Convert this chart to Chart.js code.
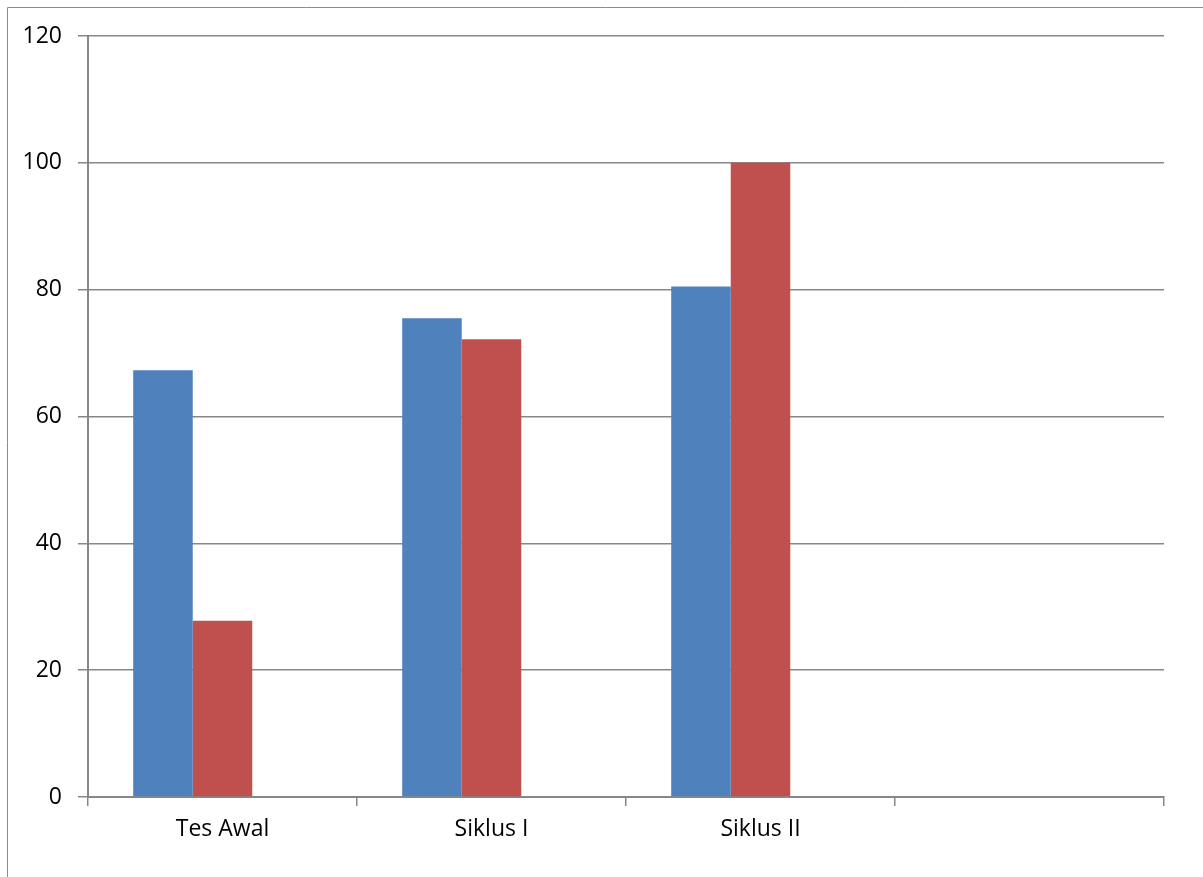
<!DOCTYPE html>
<html>
<head>
<meta charset="utf-8">
<script src="https://cdn.jsdelivr.net/npm/chart.js@4"></script>
<style>
  html, body { margin: 0; padding: 0; background: #fff; }
  #wrap { position: relative; width: 1203px; height: 877px; }
  canvas { display: block; }
</style>
</head>
<body>
<div id="wrap"><canvas id="c" width="1203" height="877"></canvas></div>
<script>
const categories = ['Tes Awal', 'Siklus I', 'Siklus II', ''];
const series1 = [67.3, 75.5, 80.5, null];
const series2 = [27.8, 72.2, 100, null];
const series3 = [null, null, null, null];
const yTicks = [0, 20, 40, 60, 80, 100, 120];

const frame = {
  id: 'frame',
  beforeDraw(chart) {
    const ctx = chart.ctx;
    ctx.save();
    ctx.strokeStyle = '#8c8c8c';
    ctx.lineWidth = 1;
    ctx.beginPath();
    ctx.moveTo(7.5, chart.height);
    ctx.lineTo(7.5, 7.5);
    ctx.lineTo(chart.width, 7.5);
    ctx.stroke();
    ctx.restore();
  }
};

Chart.defaults.font.family = '"Open Sans", sans-serif';

new Chart(document.getElementById('c'), {
  type: 'bar',
  data: {
    labels: categories,
    datasets: [
      { data: series1, backgroundColor: '#4F81BD' },
      { data: series2, backgroundColor: '#C0504D' },
      { data: series3, backgroundColor: '#9BBB59' }
    ]
  },
  options: {
    responsive: false,
    animation: false,
    devicePixelRatio: 1,
    categoryPercentage: 0.664,
    barPercentage: 1,
    layout: { padding: { top: 36, right: 39, left: 0, bottom: 0 } },
    plugins: { legend: { display: false }, tooltip: { enabled: false } },
    scales: {
      x: {
        offset: true,
        grid: { offset: true, drawOnChartArea: false, color: '#878787', lineWidth: 1.5, tickLength: 9 },
        border: { color: '#878787', width: 2 },
        ticks: { color: '#000', font: { size: 23 }, padding: 10, maxRotation: 0, autoSkip: false },
        afterFit(s) { s.height = 80; }
      },
      y: {
        min: 0, max: 120,
        afterBuildTicks(s) { s.ticks = yTicks.map(v => ({ value: v })); },
        grid: { color: '#878787', lineWidth: 1.5, tickLength: 10 },
        border: { color: '#878787', width: 2 },
        ticks: { color: '#000', font: { size: 23 }, padding: 16 },
        afterFit(s) { s.width = 88; }
      }
    }
  },
  plugins: [frame]
});
</script>
</body>
</html>
